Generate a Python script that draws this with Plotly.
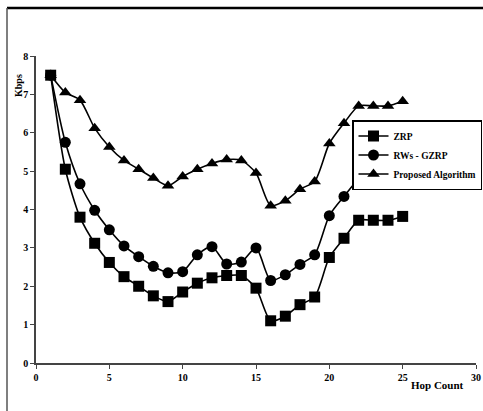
import plotly.graph_objects as go

hops = list(range(1, 26))
zrp = [7.5, 5.05, 3.8, 3.12, 2.62, 2.25, 2.0, 1.75, 1.6, 1.85, 2.08, 2.22, 2.28, 2.28, 1.95,
       1.1, 1.22, 1.52, 1.72, 2.75, 3.25, 3.72, 3.72, 3.72, 3.82]
rws_gzrp = [7.5, 5.75, 4.67, 3.98, 3.47, 3.05, 2.77, 2.52, 2.35, 2.38, 2.82, 3.03, 2.58, 2.63, 3.0,
            2.15, 2.3, 2.57, 2.82, 3.84, 4.34, 4.77, 4.77, 4.77, 4.88]
proposed = [7.5, 7.05, 6.85, 6.12, 5.63, 5.28, 5.05, 4.82, 4.62, 4.86, 5.05, 5.2, 5.3, 5.28, 4.95,
            4.1, 4.23, 4.53, 4.73, 5.72, 6.25, 6.7, 6.7, 6.7, 6.82]

series = [("ZRP", zrp, "square"), ("RWs - GZRP", rws_gzrp, "circle"),
          ("Proposed Algorithm", proposed, "triangle-up")]

W, H = 483, 411
l, r, t, b = 36, 7, 56, 48
pw, ph = W - l - r, H - t - b
def px(xp):
    return (xp - l) / pw
def py(yp):
    return (H - b - yp) / ph

fig = go.Figure()
for name, vals, sym in series:
    fig.add_trace(go.Scatter(
        x=hops, y=vals, name=name, mode="lines+markers",
        line=dict(color="black", width=1.6, shape="spline", smoothing=0.7),
        marker=dict(symbol=sym, size=11, color="black"),
    ))

tf = dict(family="Liberation Serif", size=10, color="black", weight="bold")
fig.update_layout(
    width=W, height=H,
    margin=dict(l=l, r=r, t=t, b=b, autoexpand=False),
    paper_bgcolor="white", plot_bgcolor="white",
    showlegend=True,
    legend=dict(x=px(352), y=py(120), xanchor="left", yanchor="top",
                bgcolor="white", bordercolor="black", borderwidth=1.5,
                font=dict(family="Liberation Serif", size=9.5, color="black", weight="bold"),
                tracegroupgap=0, itemwidth=30),
    xaxis=dict(range=[0, 30], tickvals=[0, 5, 10, 15, 20, 25, 30], showgrid=False, zeroline=False,
               showline=True, linecolor="#444", linewidth=1.5, ticks="outside", ticklen=4,
               tickcolor="#444", tickfont=tf),
    yaxis=dict(range=[0, 8], tickvals=list(range(0, 9)), showgrid=False, zeroline=False,
               showline=True, linecolor="#444", linewidth=1.5, ticks="outside", ticklen=4,
               tickcolor="#444", tickfont=tf),
    annotations=[
        dict(text="Hop Count", x=px(437), y=py(385), xref="paper", yref="paper", showarrow=False,
             xanchor="center", yanchor="middle",
             font=dict(family="Liberation Serif", size=11, color="black", weight="bold")),
        dict(text="Kbps", textangle=-90, x=px(18), y=py(86), xref="paper", yref="paper",
             xanchor="center", yanchor="middle", showarrow=False,
             font=dict(family="Liberation Serif", size=10, color="black", weight="bold")),
    ],
)

fig.add_shape(type="line", xref="paper", yref="paper", x0=px(7), x1=px(490), y0=py(8), y1=py(8),
              line=dict(color="black", width=2.5))
fig.add_shape(type="line", xref="paper", yref="paper", x0=px(7), x1=px(7), y0=py(8), y1=py(420),
              line=dict(color="#555", width=1.5))

fig.write_html("out.html", config={"displayModeBar": False},
               post_script="document.body.style.margin='0px';")
